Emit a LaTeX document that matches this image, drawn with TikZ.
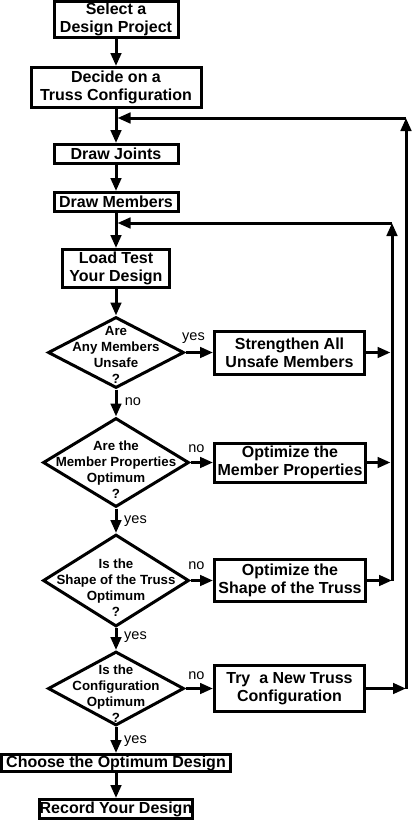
\documentclass[tikz,border=0pt]{standalone}
\usepackage{fontspec}
\setmainfont{Liberation Sans}
\usetikzlibrary{arrows.meta,shapes.geometric}
\begin{document}
\begin{tikzpicture}[x=1pt,y=-1pt,
  box/.style={draw, line width=3pt, inner sep=0pt, font=\bfseries\fontsize{16}{18}\selectfont, align=center},
  dia/.style={draw, diamond, line width=3pt, inner sep=0pt},
  dtxt/.style={font=\bfseries\fontsize{13.3}{16}\selectfont, align=center, inner sep=0pt},
  lbl/.style={font=\fontsize{14.5}{16}\selectfont, inner sep=0pt},
  arr/.style={line width=3pt, -{Triangle[length=13pt,width=10.5pt]}},
  ln/.style={line width=3pt}
]
\useasboundingbox (0,0) rectangle (412,823);
% boxes
\node[box, minimum width=124pt, minimum height=36pt] (sel) at (116,19.5) {Select a\\Design Project};
\node[box, minimum width=170pt, minimum height=40pt] (dec) at (116,87.5) {Decide on a\\Truss Configuration};
\node[box, minimum width=124pt, minimum height=19pt] (jts) at (116,154) {Draw Joints};
\node[box, minimum width=124pt, minimum height=19pt] (mem) at (116,202) {Draw Members};
\node[box, minimum width=107pt, minimum height=38pt] (load) at (116,268.5) {Load Test\\Your Design};
\node[box, minimum width=150pt, minimum height=43pt] (str) at (289.5,352.5) {Strengthen All\\Unsafe Members};
\node[box, minimum width=151pt, minimum height=39pt] (omp) at (290,462.5) {Optimize the\\Member Properties};
\node[box, minimum width=151pt, minimum height=42pt] (osh) at (290,580.5) {Optimize the\\Shape of the Truss};
\node[box, minimum width=150pt, minimum height=46pt] (try) at (289.5,688.5) {Try~ a New Truss\\Configuration};
\node[box, minimum width=229pt, minimum height=17pt] (cho) at (116,763) {Choose the Optimum Design};
\node[box, minimum width=151pt, minimum height=19pt] (rec) at (116,809) {Record Your Design};
% diamonds
\node[dia, minimum width=136pt, minimum height=71pt] (d1) at (116,352.5) {};
\node[dia, minimum width=146pt, minimum height=89pt] (d2) at (116,462.5) {};
\node[dia, minimum width=146pt, minimum height=92pt] (d3) at (116,580.5) {};
\node[dia, minimum width=136pt, minimum height=74pt] (d4) at (116,688.5) {};
\node[dtxt] (t1) at (116,355) {Are\\Any Members\\Unsafe\\?};
\node[dtxt] (t2) at (116,469.5) {Are the\\Member Properties\\Optimum\\?};
\node[dtxt] (t3) at (116,587.5) {Is the\\Shape of the Truss\\Optimum\\?};
\node[dtxt] (t4) at (116,693.5) {Is the\\Configuration\\Optimum\\?};
% labels
\node[lbl] (y1) at (193.5,338) {yes};
\node[lbl] (n1) at (133,402) {no};
\node[lbl] (n2) at (196.5,449) {no};
\node[lbl] (y2) at (135.5,521) {yes};
\node[lbl] (n3) at (196.5,566) {no};
\node[lbl] (y3) at (135.5,637) {yes};
\node[lbl] (n4) at (196.5,676) {no};
\node[lbl] (y4) at (135.5,741) {yes};
% coordinates
\coordinate (j1) at (116,118);
\coordinate (j2) at (116,223);
\coordinate (c1) at (406,118);
\coordinate (c2) at (392,223);
\coordinate (c3) at (406,688.5);
\coordinate (c4) at (392,580.5);
\coordinate (m1) at (392,352.5);
\coordinate (m2) at (392,462.5);
% main column
\draw[arr] (sel) -- (dec);
\draw[arr] (dec) -- (jts);
\draw[arr] (jts) -- (mem);
\draw[arr] (mem) -- (load);
\draw[arr] (load) -- (d1.north);
\draw[arr] (d1.south) -- (d2.north);
\draw[arr] (d2.south) -- (d3.north);
\draw[arr] (d3.south) -- (d4.north);
\draw[arr] (d4.south) -- (cho);
\draw[arr] (cho) -- (rec);
% branches
\draw[arr] (d1.east) -- (str.west);
\draw[arr] (d2.east) -- (omp.west);
\draw[arr] (d3.east) -- (osh.west);
\draw[arr] (d4.east) -- (try.west);
\draw[arr, shorten >=1.5pt] (str) -- (m1);
\draw[arr, shorten >=1.5pt] (omp) -- (m2);
\draw[arr] (osh) -- (c4);
\draw[arr] (try) -- (c3);
% loops
\draw[arr] (c4) -- (c2);
\draw[arr, shorten >=1.5pt] (c2) -- (j2);
\draw[arr] (c3) -- (c1);
\draw[arr, shorten >=1.5pt] (c1) -- (j1);
\end{tikzpicture}
\end{document}
